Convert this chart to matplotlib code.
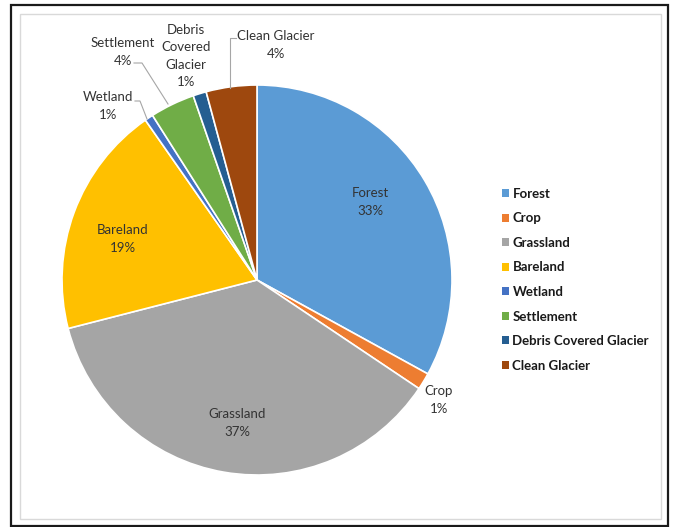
import matplotlib.pyplot as plt
from matplotlib.patches import Patch, Rectangle
import numpy as np

names = ["Forest", "Crop", "Grassland", "Bareland", "Wetland",
         "Settlement", "Debris Covered Glacier", "Clean Glacier"]
shares = [33.0, 1.4, 36.6, 19.3, 0.7, 3.7, 1.1, 4.2]
label_names = ["Forest", "Crop", "Grassland", "Bareland", "Wetland",
               "Settlement", "Debris\nCovered\nGlacier", "Clean Glacier"]
colors = ["#5B9BD5", "#ED7D31", "#A5A5A5", "#FFC000", "#4472C4",
          "#70AD47", "#255E91", "#9E480E"]

W, H = 673, 527
CX, CY, R = 257, 280, 195
FONT = "Lato"

fig = plt.figure(figsize=(W / 100, H / 100), dpi=100)

# chart frame: outer dark border, inner light chart area border
fig.patches.append(Rectangle((11 / W, 1 - 526 / H), 657 / W, 521 / H, transform=fig.transFigure,
                             fill=False, edgecolor="#1a1a1a", lw=1.6))
fig.patches.append(Rectangle((19.5 / W, 1 - 519 / H), 641.5 / W, 505 / H, transform=fig.transFigure,
                             fill=False, edgecolor="#d9d9d9", lw=1.0))

ax = fig.add_axes([(CX - R) / W, (H - CY - R) / H, 2 * R / W, 2 * R / H])
wedges, _ = ax.pie(shares, colors=colors, startangle=90, counterclock=False,
                   radius=1.0, wedgeprops=dict(edgecolor="white", linewidth=1.2))
ax.set_xlim(-1, 1)
ax.set_ylim(-1, 1)
ax.set_aspect("equal")
ax.axis("off")


def px(x, y):
    # pixel position -> pie data coords
    return (x - CX) / R, (CY - y) / R


txt = dict(ha="center", va="center", fontsize=9.5, color="#333333", family=FONT, linespacing=1.55)

# data label positions (pixels)
label_pos = [(370, 202), (439, 400), (237, 423), (123, 239),
             (108, 106), (123, 52), (186, 56), (276, 45)]
for i, p in enumerate(label_pos):
    x, y = px(*p)
    ax.text(x, y, "%s\n%.0f%%" % (label_names[i], shares[i]), **txt)

# leader lines
leaders = [
    [(135, 101), (140, 101), (147, 119)],
    [(134, 63), (142, 63), (168, 104)],
    [(236, 38), (230, 38), (230, 88)],
]
for pts in leaders:
    xy = np.array([px(*p) for p in pts])
    ax.plot(xy[:, 0], xy[:, 1], color="#a6a6a6", lw=0.8, clip_on=False)

handles = [Patch(facecolor=c, edgecolor="none") for c in colors]
fig.legend(handles, names, loc="upper left", bbox_to_anchor=(490 / W, 1 - 176 / H),
           frameon=False, handlelength=0.55, handleheight=0.55, handletextpad=0.25,
           labelspacing=0.95, prop=dict(family=FONT, weight="bold", size=9.5),
           labelcolor="#1a1a1a")

fig.savefig("out.png", dpi=100)
